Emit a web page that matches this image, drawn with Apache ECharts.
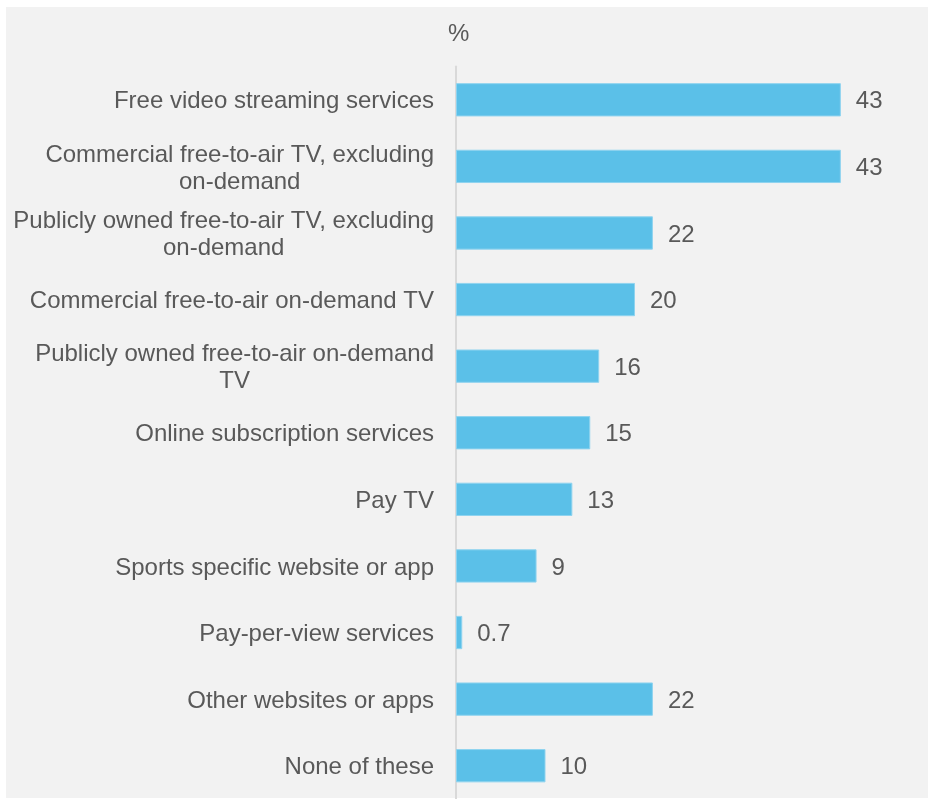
<!DOCTYPE html>
<html>
<head>
<meta charset="utf-8">
<script src="https://cdn.jsdelivr.net/npm/echarts@6/dist/echarts.min.js"></script>
<style>
  html, body { margin: 0; padding: 0; background: #ffffff; }
  #chart { width: 928px; height: 799px; }
</style>
</head>
<body>
<div id="chart"></div>
<script>
// Ways of watching sport, share of respondents (%)
const categories = [
  'Free video streaming services',
  'Commercial free-to-air TV, excluding\non-demand',
  'Publicly owned free-to-air TV, excluding\non-demand',
  'Commercial free-to-air on-demand TV',
  'Publicly owned free-to-air on-demand\nTV',
  'Online subscription services',
  'Pay TV',
  'Sports specific website or app',
  'Pay-per-view services',
  'Other websites or apps',
  'None of these'
];
const values = [43, 43, 22, 20, 16, 15, 13, 9, 0.7, 22, 10];
const unitLabel = '%';

const textColor = '#595959';
const fontFamily = '"Liberation Sans", Arial, sans-serif';
const fontSize = 24;

const chart = echarts.init(document.getElementById('chart'), null, { renderer: 'canvas' });

chart.setOption({
  backgroundColor: '#ffffff',
  animation: false,
  graphic: [{
    type: 'rect',
    z: -10,
    silent: true,
    shape: { x: 6, y: 7, width: 922, height: 791 },
    style: { fill: '#f2f2f2' }
  }],
  title: {
    text: unitLabel,
    left: 443,
    top: 17,
    textStyle: { color: textColor, fontSize: fontSize, fontWeight: 'normal', fontFamily: fontFamily }
  },
  grid: {
    left: 456,
    top: 66.5,
    height: 737,
    right: 24.5,
    containLabel: false
  },
  xAxis: {
    type: 'value',
    min: 0,
    max: 50,
    show: false
  },
  yAxis: {
    type: 'category',
    inverse: true,
    data: categories,
    axisLine: { show: true, lineStyle: { color: '#d9d9d9', width: 2 } },
    axisTick: { show: false },
    splitLine: { show: false },
    axisLabel: {
      margin: 22,
      align: 'right',
      color: textColor,
      fontSize: fontSize,
      fontFamily: fontFamily,
      lineHeight: 27,
      padding: [4, 0, 0, 0],
      formatter: function (v) {
        return v.split('\n').map(function (l) { return '{c|' + l + '}'; }).join('\n');
      },
      rich: {
        c: { align: 'center', color: textColor, fontSize: fontSize, fontFamily: fontFamily, lineHeight: 27 }
      }
    }
  },
  series: [{
    type: 'bar',
    data: values,
    barWidth: '50%',
    itemStyle: { color: '#5bc0e8', borderColor: '#8fd3ef', borderWidth: 1 },
    label: {
      show: true,
      position: 'right',
      distance: 15,
      offset: [0, 2],
      color: textColor,
      fontSize: fontSize,
      fontFamily: fontFamily
    }
  }]
});
</script>
</body>
</html>
